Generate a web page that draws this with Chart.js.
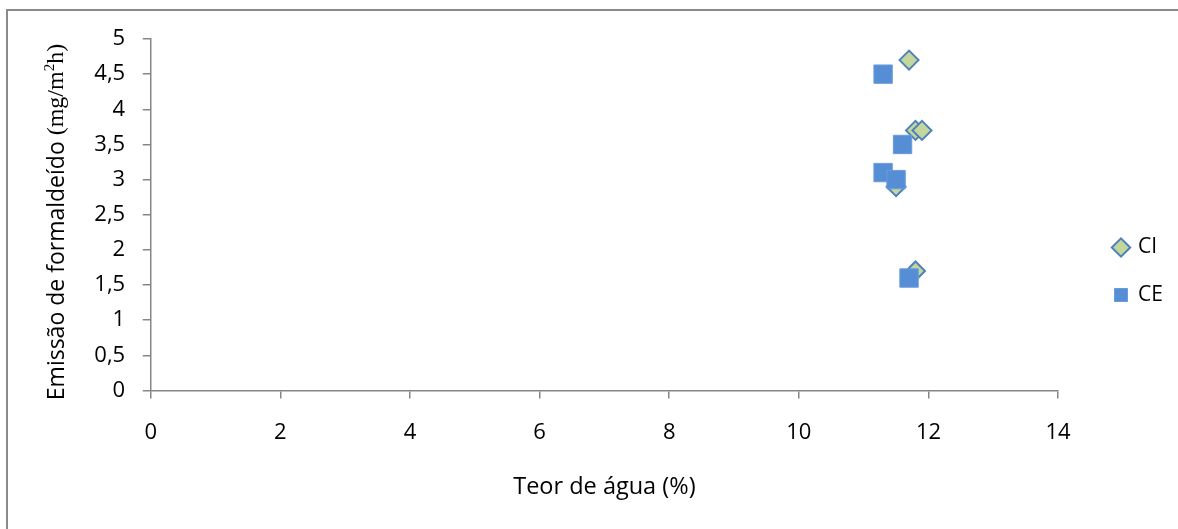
<!DOCTYPE html>
<html>
<head>
<meta charset="utf-8">
<script src="https://cdn.jsdelivr.net/npm/chart.js@4.4.1/dist/chart.umd.min.js"></script>
<style>
  html, body { margin: 0; padding: 0; background: #fff; overflow: hidden; }
  #wrap { position: relative; width: 1178px; height: 529px; }
  #frame { position: absolute; left: 6px; top: 9px; width: 1300px; height: 600px;
           border: 2px solid #8a8a8a; box-sizing: border-box; }
  #chart { position: absolute; left: 0; top: 0; }
</style>
</head>
<body>
<div id="wrap">
  <div id="frame"></div>
  <canvas id="chart" width="1178" height="529"></canvas>
</div>
<script>
// Water content (%) and formaldehyde emission (mg/m²h) per series
const seriesNames = ['CI', 'CE'];
const ciWater    = [11.7, 11.8, 11.9, 11.5, 11.8];
const ciEmission = [4.7, 3.7, 3.7, 2.9, 1.7];
const ceWater    = [11.3, 11.6, 11.3, 11.5, 11.7];
const ceEmission = [4.5, 3.5, 3.1, 3.0, 1.6];

// Axis ticks
const xTickValues = [0, 2, 4, 6, 8, 10, 12, 14];
const yTickValues = [0, 0.5, 1, 1.5, 2, 2.5, 3, 3.5, 4, 4.5, 5];

const xTitle = 'Teor de água (%)';
const yTitleSans = 'Emissão de formaldeído ';
const yTitleSerifA = '(mg/m';
const yTitleSup = '2';
const yTitleSerifB = 'h)';

const toPoints = (xs, ys) => xs.map((x, i) => ({ x: x, y: ys[i] }));

const AXIS_GREY = '#868686';
const SANS = '"Open Sans", "DejaVu Sans", sans-serif';
const SERIF = '"Liberation Serif", "DejaVu Serif", serif';

// Vertical axis title with a serif unit part and a superscript
const yTitlePlugin = {
  id: 'yTitleMixed',
  afterDraw(chart) {
    const ctx = chart.ctx;
    const parts = [
      { text: yTitleSans,   font: '23px ' + SANS,  dy: 0 },
      { text: yTitleSerifA, font: '24px ' + SERIF, dy: 0 },
      { text: yTitleSup,    font: '15px ' + SERIF, dy: -7 },
      { text: yTitleSerifB, font: '24px ' + SERIF, dy: 0 }
    ];
    ctx.save();
    let total = 0;
    parts.forEach(p => { ctx.font = p.font; p.w = ctx.measureText(p.text).width; total += p.w; });
    ctx.translate(57, 222);
    ctx.rotate(-Math.PI / 2);
    ctx.fillStyle = '#000';
    ctx.textBaseline = 'middle';
    ctx.textAlign = 'left';
    let x = -total / 2;
    parts.forEach(p => {
      ctx.font = p.font;
      ctx.fillText(p.text, x, p.dy);
      x += p.w;
    });
    ctx.restore();
  }
};

// Place the legend block beside the plot
const legendPlacePlugin = {
  id: 'legendPlace',
  afterLayout(chart) {
    const lg = chart.legend;
    if (!lg) return;
    const pad = lg.options.labels.padding;
    const left = 1121 - 6.5 - pad;
    const top = 237 - pad;
    lg.left = left; lg.right = left + lg.width;
    lg.top = top; lg.bottom = Math.max(top + 300, lg.bottom);
  }
};

new Chart(document.getElementById('chart'), {
  type: 'scatter',
  data: {
    datasets: [
      {
        label: seriesNames[0],
        data: toPoints(ciWater, ciEmission),
        pointStyle: 'rectRot',
        pointRadius: 9.5,
        pointHoverRadius: 9.5,
        backgroundColor: '#C3D69B',
        borderColor: '#4F81BD',
        borderWidth: 2,
        order: 2
      },
      {
        label: seriesNames[1],
        data: toPoints(ceWater, ceEmission),
        pointStyle: 'rect',
        pointRadius: 13,
        pointHoverRadius: 13,
        backgroundColor: '#558ED5',
        borderColor: '#6a9cdc',
        borderWidth: 1,
        order: 1
      }
    ]
  },
  options: {
    responsive: false,
    animation: false,
    devicePixelRatio: 1,
    layout: { padding: { left: 0, top: 39, right: 35, bottom: 0 } },
    plugins: {
      tooltip: { enabled: false },
      legend: {
        position: 'right',
        align: 'start',
        labels: {
          usePointStyle: true,
          boxWidth: 13,
          boxHeight: 13,
          padding: 26.5,
          color: '#000',
          font: { family: SANS, size: 21 },
          sort: (a, b) => a.datasetIndex - b.datasetIndex
        }
      }
    },
    scales: {
      x: {
        type: 'linear',
        min: 0,
        max: 14,
        afterBuildTicks: s => { s.ticks = xTickValues.map(v => ({ value: v })); },
        afterFit: s => { s.height = 138.5; },
        ticks: {
          padding: 21,
          color: '#000',
          font: { family: SANS, size: 22 },
          maxRotation: 0
        },
        grid: { display: true, drawOnChartArea: false, drawTicks: true, tickLength: 8,
                color: AXIS_GREY, lineWidth: 1.5 },
        border: { display: true, color: AXIS_GREY, width: 1.5 },
        title: {
          display: true,
          text: xTitle,
          color: '#000',
          font: { family: SANS, size: 23.5 },
          padding: { top: 0, bottom: 28 }
        }
      },
      y: {
        type: 'linear',
        min: 0,
        max: 5,
        afterBuildTicks: s => { s.ticks = yTickValues.map(v => ({ value: v })); },
        afterFit: s => { s.width = 150.7; },
        ticks: {
          padding: 17.5,
          color: '#000',
          font: { family: SANS, size: 22 },
          callback: v => String(v).replace('.', ',')
        },
        grid: { display: true, drawOnChartArea: false, drawTicks: true, tickLength: 8,
                color: AXIS_GREY, lineWidth: 1.5 },
        border: { display: true, color: AXIS_GREY, width: 1.5 }
      }
    }
  },
  plugins: [yTitlePlugin, legendPlacePlugin]
});
</script>
</body>
</html>
